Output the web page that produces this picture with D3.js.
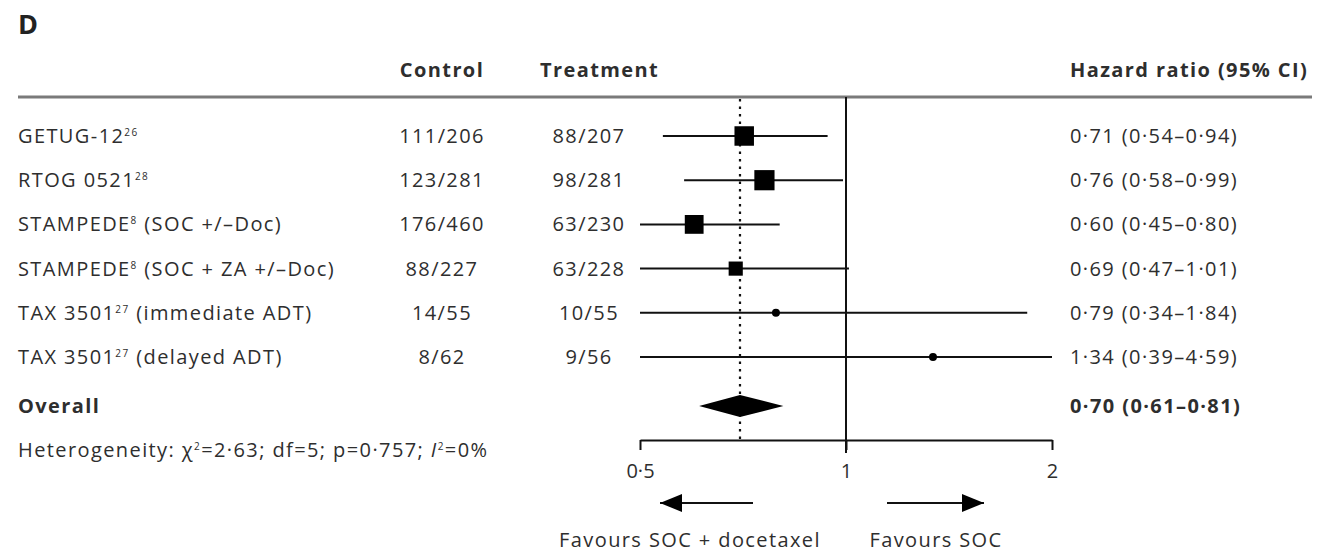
<!DOCTYPE html>
<html>
<head>
<meta charset="utf-8">
<script src="https://cdn.jsdelivr.net/npm/d3@7"></script>
<style>
  html, body { margin: 0; padding: 0; background: #fff; }
  svg { display: block; }
  text { font-family: "Open Sans", Lato, sans-serif; fill: #2e2e2e; }
</style>
</head>
<body>
<svg id="chart" width="1338" height="554"></svg>
<script>
// Trials in the meta-analysis
const studies    = ["GETUG-12", "RTOG 0521", "STAMPEDE", "STAMPEDE", "TAX 3501", "TAX 3501"];
const refs       = ["26", "28", "8", "8", "27", "27"];
const subgroups  = ["", "", " (SOC +/–Doc)", " (SOC + ZA +/–Doc)", " (immediate ADT)", " (delayed ADT)"];
const controlEv  = ["111/206", "123/281", "176/460", "88/227", "14/55", "8/62"];
const treatEv    = ["88/207", "98/281", "63/230", "63/228", "10/55", "9/56"];
const hr         = [0.71, 0.76, 0.60, 0.69, 0.79, 1.34];
const ciLow      = [0.54, 0.58, 0.45, 0.47, 0.34, 0.39];
const ciHigh     = [0.94, 0.99, 0.80, 1.01, 1.84, 4.59];
const weights    = [27.1, 29.1, 25.2, 14.3, 2.9, 1.4];   // % weight of each trial

// Pooled estimate
const overallHR  = 0.70;
const overallLow = 0.61;
const overallHigh = 0.81;

const axisTicks  = [0.5, 1, 2];

const fmt = v => d3.format(".2f")(v).replace(".", "·");
const fmtTick = v => String(v).replace(".", "·");

const svg = d3.select("#chart");

// Layout
const left = 18, right = 1312;
const headerY = 70, ruleY = 97;
const rowY0 = 136, rowStep = 44.2;
const overallY = 406, hetY = 450;
const axisY = 440;
const controlX = 442, treatX = 589, hrX = 1070;
const fs = 20, supFs = 10, supShift = 7;
const tracking = "1.4px";

const x = d3.scaleLog().base(2).domain([0.5, 2]).range([640, 1052]).clamp(true);
const size = d3.scaleSqrt().domain([0, 30]).range([0, 20.5]);

// Appends text with superscript segments: parts = [[str, isSup, italic], ...]
function richText(g, xPos, yPos, parts) {
  const t = g.append("text").attr("x", xPos).attr("y", yPos).attr("dy", "0.35em")
    .attr("font-size", fs);
  let raised = false;
  parts.forEach(([str, sup, ital]) => {
    const ts = t.append("tspan").text(str);
    if (sup && !raised) { ts.attr("dy", -supShift); raised = true; }
    else if (!sup && raised) { ts.attr("dy", supShift); raised = false; }
    ts.attr("font-size", sup ? supFs : fs);
    if (ital) ts.attr("font-style", "italic");
  });
  return t;
}

// Panel letter
svg.append("text").attr("x", left).attr("y", 34)
  .attr("font-size", 27).attr("font-weight", 700).style("fill", "#222").text("D");

// Column headers
const hdr = svg.append("g").attr("font-size", fs).attr("font-weight", 700).style("letter-spacing", tracking);
hdr.append("text").attr("x", controlX).attr("y", headerY).attr("dy", "0.35em")
  .attr("text-anchor", "middle").text("Control");
hdr.append("text").attr("x", 540).attr("y", headerY).attr("dy", "0.35em").text("Treatment");
hdr.append("text").attr("x", hrX).attr("y", headerY).attr("dy", "0.35em").text("Hazard ratio (95% CI)");

// Header rule
svg.append("line").attr("x1", left).attr("x2", right).attr("y1", ruleY).attr("y2", ruleY)
  .attr("stroke", "#7a7a7a").attr("stroke-width", 3);

// Reference line at HR = 1 and dotted line at pooled HR
svg.append("line").attr("x1", x(1)).attr("x2", x(1)).attr("y1", ruleY).attr("y2", axisY + 13)
  .attr("stroke", "#111").attr("stroke-width", 2);
svg.append("line").attr("x1", x(overallHR)).attr("x2", x(overallHR)).attr("y1", ruleY + 2).attr("y2", axisY)
  .attr("stroke", "#111").attr("stroke-width", 2.2).attr("stroke-dasharray", "2.5,5");

// Study rows
const rows = svg.append("g").style("letter-spacing", tracking);
studies.forEach((s, i) => {
  const y = rowY0 + i * rowStep;
  richText(rows, left, y, [[s], [refs[i], true], [subgroups[i]]]);

  rows.append("text").attr("x", controlX).attr("y", y).attr("dy", "0.35em").attr("font-size", fs)
    .attr("text-anchor", "middle").text(controlEv[i]);
  rows.append("text").attr("x", treatX).attr("y", y).attr("dy", "0.35em").attr("font-size", fs)
    .attr("text-anchor", "middle").text(treatEv[i]);
  rows.append("text").attr("x", hrX).attr("y", y).attr("dy", "0.35em").attr("font-size", fs)
    .text(`${fmt(hr[i])} (${fmt(ciLow[i])}–${fmt(ciHigh[i])})`);

  // Confidence interval
  svg.append("line").attr("x1", x(ciLow[i])).attr("x2", x(ciHigh[i]))
    .attr("y1", y).attr("y2", y).attr("stroke", "#111").attr("stroke-width", 2);

  // Point estimate, sized by weight
  const side = Math.max(8, size(weights[i]));
  svg.append("rect")
    .attr("x", x(hr[i]) - side / 2).attr("y", y - side / 2)
    .attr("width", side).attr("height", side)
    .attr("rx", side < 10 ? side / 2 : 0)
    .attr("fill", "#000");
});

// Overall row
const ov = svg.append("g").attr("font-weight", 700).style("letter-spacing", tracking);
ov.append("text").attr("x", left).attr("y", overallY).attr("dy", "0.35em")
  .attr("font-size", fs).text("Overall");
ov.append("text").attr("x", hrX).attr("y", overallY).attr("dy", "0.35em")
  .attr("font-size", fs)
  .text(`${fmt(overallHR)} (${fmt(overallLow)}–${fmt(overallHigh)})`);
const dh = 11;
svg.append("path")
  .attr("d", `M${x(overallLow)},${overallY} L${x(overallHR)},${overallY - dh} L${x(overallHigh)},${overallY} L${x(overallHR)},${overallY + dh} Z`)
  .attr("fill", "#000");

// Heterogeneity statistics
const hetG = svg.append("g").style("letter-spacing", tracking);
richText(hetG, left, hetY, [
  ["Heterogeneity: χ"], ["2", true], ["=2·63; df=5; p=0·757; "],
  ["I", false, true], ["2", true], ["=0%"]
]);

// Axis
const axis = svg.append("g").attr("transform", `translate(0,${axisY})`)
  .call(d3.axisBottom(x).tickValues(axisTicks).tickFormat(fmtTick).tickSize(10).tickSizeOuter(0).tickPadding(14));
axis.select(".domain").attr("stroke", "#111").attr("stroke-width", 2);
axis.selectAll(".tick line").attr("stroke", "#111").attr("stroke-width", 2);
axis.selectAll(".tick text").attr("font-size", fs).attr("font-family", "'Open Sans', sans-serif")
  .style("fill", "#2e2e2e");

// Direction arrows and labels
const arrowY = 503;
[[753, 660], [887, 984]].forEach(([a, b]) => {
  svg.append("line").attr("x1", a).attr("x2", b).attr("y1", arrowY).attr("y2", arrowY)
    .attr("stroke", "#111").attr("stroke-width", 2);
  const dir = Math.sign(b - a);
  svg.append("path")
    .attr("d", `M${b},${arrowY} L${b - dir * 22},${arrowY - 9} L${b - dir * 22},${arrowY + 9} Z`)
    .attr("fill", "#000");
});
const foot = svg.append("g").attr("font-size", fs).style("letter-spacing", tracking);
foot.append("text").attr("x", 690).attr("y", 540).attr("dy", "0.35em")
  .attr("text-anchor", "middle").text("Favours SOC + docetaxel");
foot.append("text").attr("x", 936).attr("y", 540).attr("dy", "0.35em")
  .attr("text-anchor", "middle").text("Favours SOC");
</script>
</body>
</html>
